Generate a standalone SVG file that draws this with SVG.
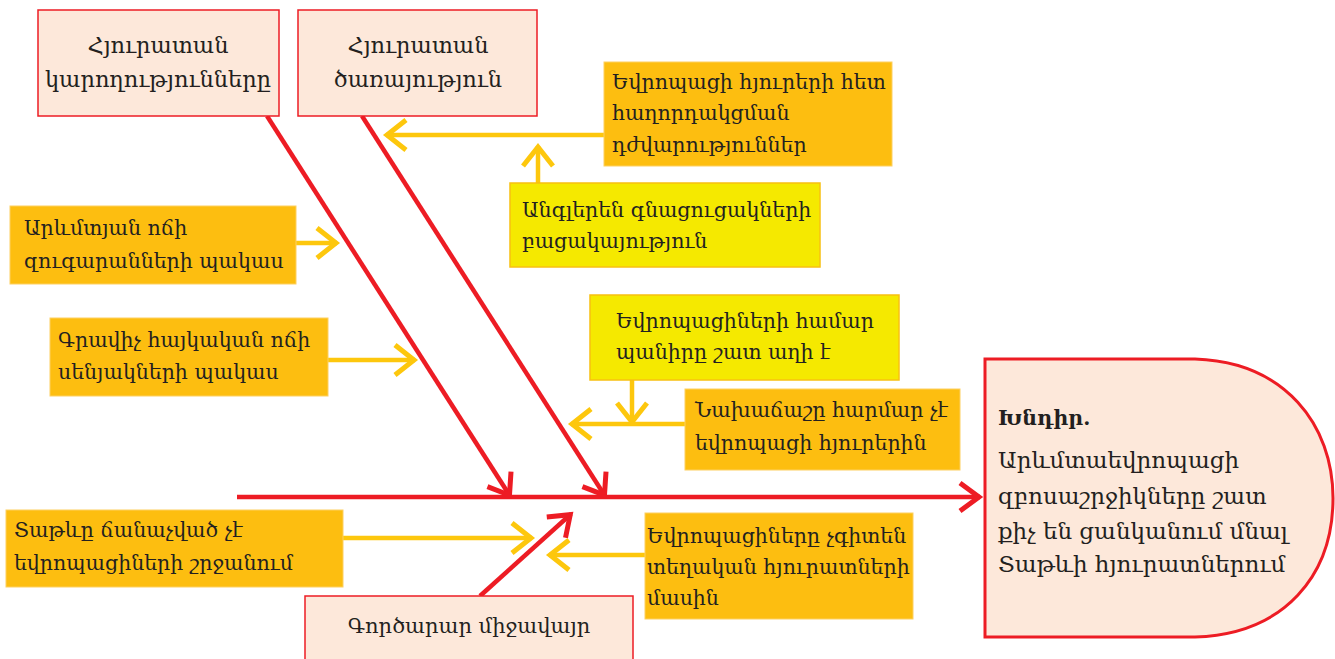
<svg xmlns="http://www.w3.org/2000/svg" width="1335" height="659" viewBox="0 0 1335 659">
<style>
text{font-family:"DejaVu Serif","Noto Serif","Liberation Serif",serif;font-size:20.5px;fill:#231f20}
.c{text-anchor:middle}
.big{font-size:22.5px}
.prob{font-size:23px}
.peach{fill:#fde8da;stroke:#ed1c24;stroke-width:1.5}
.org{fill:#fdbe10;stroke:#fdd060;stroke-width:1}
.yel{fill:#f5e900;stroke:#f8c010;stroke-width:1.5}
.red{stroke:#ed1c24;stroke-width:4.5;fill:none}
.yl{stroke:#fdc70d;stroke-width:4.5;fill:none}
</style>
<defs>
<marker id="ay" markerUnits="userSpaceOnUse" markerWidth="34" markerHeight="40" refX="30" refY="20" orient="auto"><path d="M10,5 L29,20 L10,35" fill="none" stroke="#fdc70d" stroke-width="5"/></marker>
<marker id="ar" markerUnits="userSpaceOnUse" markerWidth="34" markerHeight="40" refX="30" refY="20" orient="auto"><path d="M10,6 L29,20 L10,34" fill="none" stroke="#ed1c24" stroke-width="5"/></marker>
</defs>
<g id="connectors">
<line class="red" x1="237" y1="497" x2="980" y2="497" marker-end="url(#ar)"/>
<line class="red" x1="267" y1="116" x2="510" y2="496" marker-end="url(#ar)"/>
<line class="red" x1="362" y1="116" x2="605" y2="496" marker-end="url(#ar)"/>
<line class="red" x1="480" y1="596" x2="571" y2="514" marker-end="url(#ar)"/>
<line class="yl" x1="604" y1="135" x2="386" y2="135" marker-end="url(#ay)"/>
<line class="yl" x1="538" y1="183" x2="538" y2="146" marker-end="url(#ay)"/>
<line class="yl" x1="279" y1="243" x2="337" y2="243" marker-end="url(#ay)"/>
<line class="yl" x1="328" y1="360" x2="415" y2="360" marker-end="url(#ay)"/>
<line class="yl" x1="632" y1="380" x2="632" y2="423" marker-end="url(#ay)"/>
<line class="yl" x1="685" y1="424" x2="571" y2="424" marker-end="url(#ay)"/>
<line class="yl" x1="343" y1="538" x2="532" y2="538" marker-end="url(#ay)"/>
<line class="yl" x1="645" y1="555" x2="549" y2="555" marker-end="url(#ay)"/>
</g>
<g id="n1"><rect class="peach" x="38" y="10" width="241" height="106"/><text class="c big" x="158" y="53">Հյուրատան</text><text class="c big" x="158" y="87">կարողությունները</text></g>
<g id="n2"><rect class="peach" x="298" y="10" width="239" height="106"/><text class="c big" x="418" y="53">Հյուրատան</text><text class="c big" x="418" y="87">ծառայություն</text></g>
<g id="n3"><rect class="org" x="604" y="62" width="288" height="104"/><text x="612" y="89">Եվրոպացի հյուրերի հետ</text><text x="612" y="120">հաղորդակցման</text><text x="612" y="152">դժվարություններ</text></g>
<g id="n4"><rect class="yel" x="510" y="183" width="310" height="84"/><text x="522" y="217">Անգլերեն գնացուցակների</text><text x="522" y="248">բացակայություն</text></g>
<g id="n5"><rect class="org" x="10" y="206" width="286" height="78"/><text x="24" y="235">Արևմտյան ոճի</text><text x="24" y="268">զուգարանների պակաս</text></g>
<g id="n6"><rect class="org" x="50" y="318" width="278" height="78"/><text x="58" y="347">Գրավիչ հայկական ոճի</text><text x="58" y="379">սենյակների պակաս</text></g>
<g id="n7"><rect class="yel" x="590" y="295" width="309" height="85"/><text x="616" y="328">Եվրոպացիների համար</text><text x="616" y="359">պանիրը շատ աղի է</text></g>
<g id="n8"><rect class="org" x="685" y="389" width="275" height="81"/><text x="695" y="417">Նախաճաշը հարմար չէ</text><text x="695" y="450">եվրոպացի հյուրերին</text></g>
<g id="n9"><path d="M985,359 L1195,359 C1285,362 1333,425 1333,498 C1333,575 1285,634 1195,637 L985,637 Z" fill="#fde8da" stroke="#ed1c24" stroke-width="3"/><text x="998" y="425" style="font-weight:bold">Խնդիր.</text><text class="prob" x="998" y="468">Արևմտաեվրոպացի</text><text class="prob" x="998" y="504">զբոսաշրջիկները շատ</text><text class="prob" x="998" y="539">քիչ են ցանկանում մնալ</text><text class="prob" x="998" y="572">Տաթևի հյուրատներում</text></g>
<g id="n10"><rect class="org" x="6" y="510" width="337" height="77"/><text x="14" y="537">Տաթևը ճանաչված չէ</text><text x="14" y="570">եվրոպացիների շրջանում</text></g>
<g id="n11"><rect class="org" x="645" y="513" width="268" height="106"/><text x="647" y="543">Եվրոպացիները չգիտեն</text><text x="647" y="574">տեղական հյուրատների</text><text x="647" y="605">մասին</text></g>
<g id="n12"><rect class="peach" x="305" y="596" width="328" height="70"/><text class="c" x="469" y="633" style="font-size:21px">Գործարար միջավայր</text></g>
</svg>
